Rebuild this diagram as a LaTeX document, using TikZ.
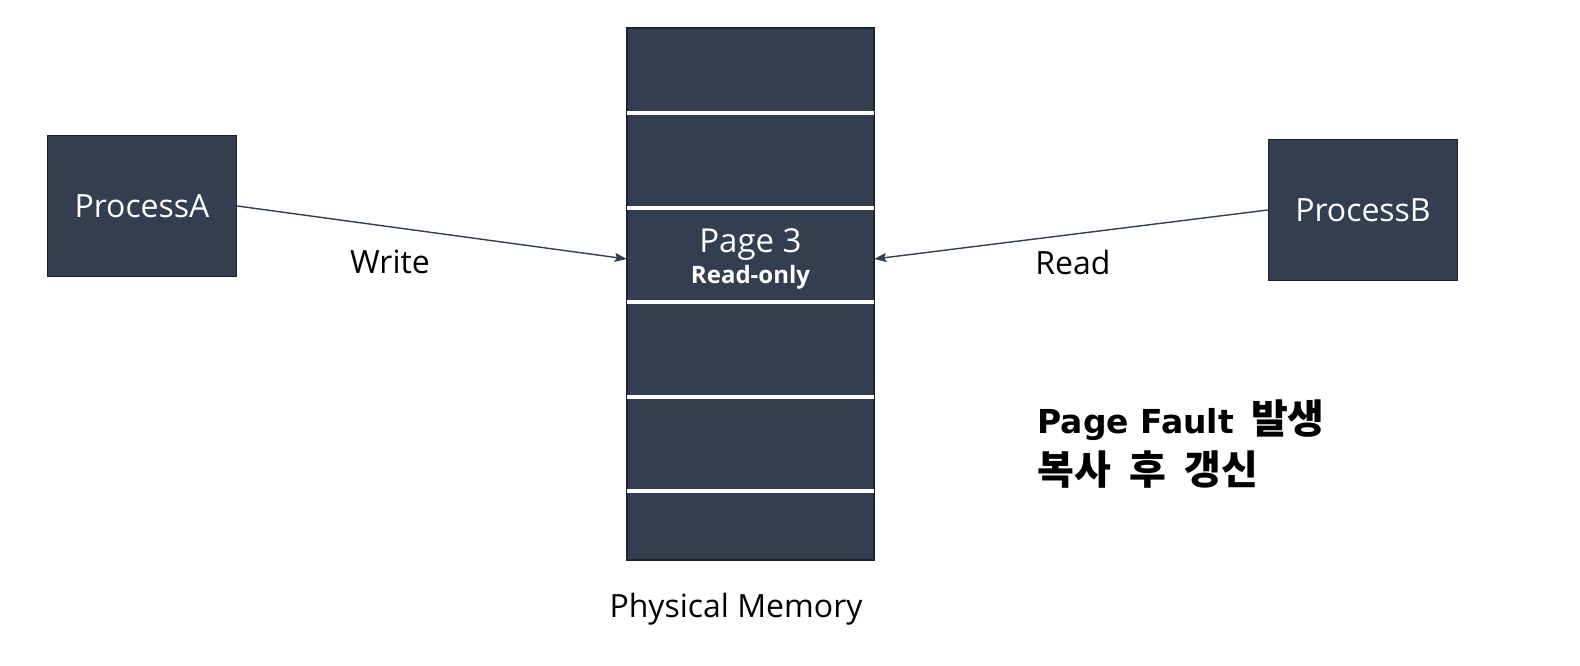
\documentclass[tikz,border=0pt]{standalone}
\usepackage{fontspec}
\setmainfont{Open Sans}
\newfontfamily\krfont[WordSpace=2.0]{Noto Sans CJK KR}
\newfontfamily\notefont{DejaVu Sans}
\usetikzlibrary{arrows.meta}
\definecolor{memfill}{HTML}{333F50}
\definecolor{memedge}{HTML}{1C232D}
\tikzset{
    % Boxes
    proc box/.style={rectangle, draw=memedge, line width=1.5pt, fill=memfill,
                     text=white, minimum width=189pt, minimum height=141pt,
                     font=\fontsize{32}{38}\selectfont},
    mem box/.style={rectangle, draw=memedge, line width=1.5pt, fill=memfill,
                    minimum width=247pt, minimum height=532pt},
    mem gap/.style={white, line width=4pt},
    page cell/.style={rectangle, minimum width=247pt, minimum height=90pt,
                      text=white, align=center, inner sep=0pt},
    % Connectors and labels
    acc arrow/.style={-{Stealth[length=12pt, width=9pt, inset=2pt]},
                      draw=memfill, line width=1.4pt},
    acc lbl/.style={font=\fontsize{32}{38}\selectfont},
    mem lbl/.style={font=\fontsize{32}{38}\selectfont},
    fault note/.style={font=\fontsize{33}{51}\selectfont\bfseries,
                       align=left, anchor=west},
}

\begin{document}
\begin{tikzpicture}[x=1pt, y=-1pt]
    \useasboundingbox (0,0) rectangle (1580,665);
    % Processes
    \node[proc box] (procA) at (142,206) {ProcessA};
    \node[proc box] (procB) at (1363,210) {ProcessB};
    % Physical memory with page gaps
    \node[mem box] (mem) at (750.5,294) {};
    \foreach \gy in {113,208,302,397,491}
        \draw[mem gap] (627,\gy) -- (874,\gy);
    \node[page cell] (page3) at (750.5,259)
        {{\fontsize{33}{36}\selectfont Page 3}\\[3pt]
         {\fontsize{24}{27}\selectfont\bfseries Read-only}};
    \node[mem lbl] (memlbl) at (736,609) {Physical Memory};
    % Accesses
    \draw[acc arrow] (procA.east) -- (page3.west);
    \draw[acc arrow] (procB.west) -- (page3.east);
    \node[acc lbl] (writelbl) at (390,262) {Write};
    \node[acc lbl] (readlbl) at (1073,262) {Read};
    % Note
    \node[fault note] (fault) at (1034,444)
        {{\notefont Page Fault\ \,}{\krfont\fontsize{40}{51}\selectfont 발생}\\
         {\krfont\fontsize{40}{51}\selectfont 복사 후 갱신}};
\end{tikzpicture}
\end{document}
